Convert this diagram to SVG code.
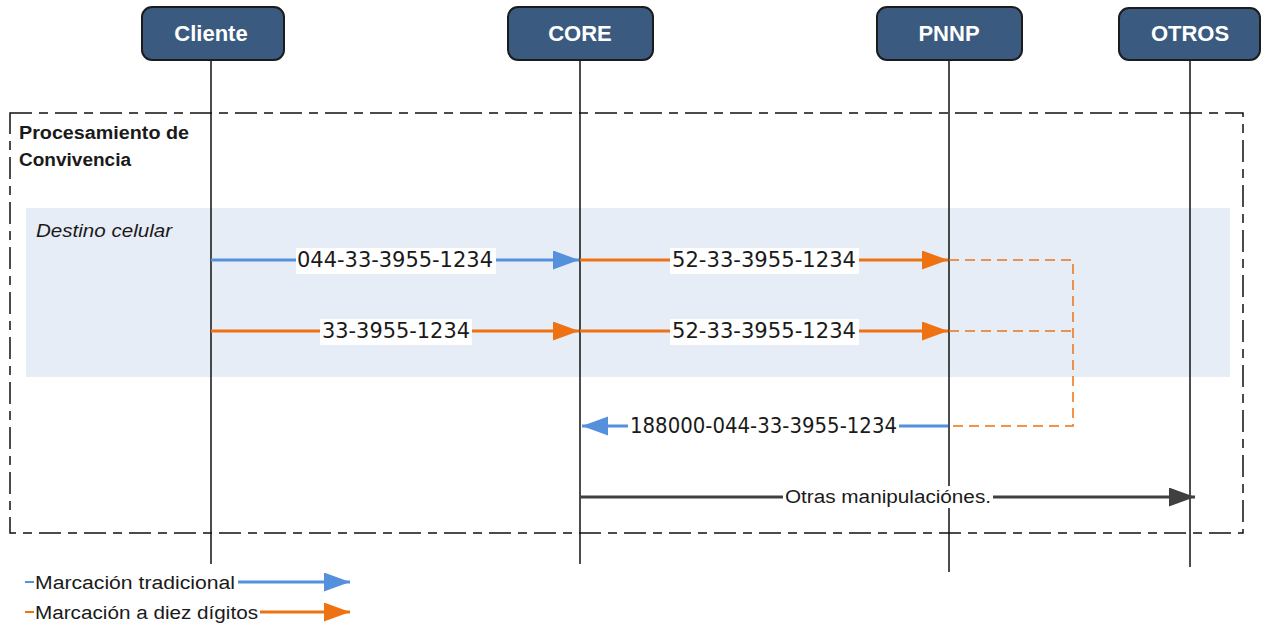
<svg xmlns="http://www.w3.org/2000/svg" width="1263" height="623" viewBox="0 0 1263 623">
<style>
.node rect{fill:#3a5a80;stroke:#1c1c1c;stroke-width:2}
.node text{font-family:"Liberation Sans",Arial,sans-serif;font-weight:bold;font-size:22px;fill:#ffffff;text-anchor:middle}
.life{stroke:#111;stroke-width:1.5}
.blue{stroke:#5590dc;stroke-width:3;fill:none}
.orange{stroke:#ee7212;stroke-width:3;fill:none}
.gray{stroke:#404040;stroke-width:3;fill:none}
.odash{stroke:#ee7212;stroke-width:1.5;fill:none;stroke-dasharray:10 6}
.lbl{font-family:"DejaVu Sans",Verdana,sans-serif;font-size:21px;fill:#1a1a1a}
.lbg{fill:#ffffff}
.small{font-family:"Liberation Sans",Arial,sans-serif;font-size:18px;fill:#1a1a1a}
</style>
<defs>
<marker id="ab" markerUnits="userSpaceOnUse" markerWidth="27" markerHeight="20" refX="26" refY="9.5" orient="auto"><path d="M0,0 L26,9.5 L0,19 z" fill="#5590dc"/></marker>
<marker id="ao" markerUnits="userSpaceOnUse" markerWidth="27" markerHeight="20" refX="26" refY="9.5" orient="auto"><path d="M0,0 L26,9.5 L0,19 z" fill="#ee7212"/></marker>
<marker id="ag" markerUnits="userSpaceOnUse" markerWidth="27" markerHeight="20" refX="26" refY="9.5" orient="auto"><path d="M0,0 L26,9.5 L0,19 z" fill="#404040"/></marker>
</defs>
<rect width="1263" height="623" fill="#ffffff"/>
<g id="frame">
<rect x="26" y="208" width="1204" height="169" fill="#e7edf7"/>
<rect x="10" y="113" width="1233" height="420" fill="none" stroke="#111" stroke-width="1.5" stroke-dasharray="22 7 9 7"/>
<text x="19" y="139" font-family="'Liberation Sans',Arial,sans-serif" font-weight="bold" font-size="18" fill="#1a1a1a" textLength="170" lengthAdjust="spacingAndGlyphs">Procesamiento de</text>
<text x="19" y="166" font-family="'Liberation Sans',Arial,sans-serif" font-weight="bold" font-size="18" fill="#1a1a1a" textLength="112" lengthAdjust="spacingAndGlyphs">Convivencia</text>
<text x="36" y="237" font-family="'Liberation Sans',Arial,sans-serif" font-style="italic" font-size="18" fill="#1a1a1a" textLength="136" lengthAdjust="spacingAndGlyphs">Destino celular</text>
</g>
<g id="lifelines">
<line class="life" x1="211" y1="60" x2="211" y2="564"/>
<line class="life" x1="580" y1="60" x2="580" y2="564"/>
<line class="life" x1="949" y1="60" x2="949" y2="572"/>
<line class="life" x1="1190" y1="60" x2="1190" y2="567"/>
</g>
<g id="node-cliente" class="node"><rect x="142" y="7" width="142" height="53" rx="10"/><text x="211" y="41">Cliente</text></g>
<g id="node-core" class="node"><rect x="508" y="7" width="145" height="53" rx="10"/><text x="580" y="41">CORE</text></g>
<g id="node-pnnp" class="node"><rect x="877" y="7" width="145" height="53" rx="10"/><text x="949" y="41">PNNP</text></g>
<g id="node-otros" class="node"><rect x="1119" y="8" width="141" height="52" rx="10"/><text x="1190" y="41">OTROS</text></g>
<g id="connectors">
<line class="blue" x1="211" y1="260" x2="579" y2="260" marker-end="url(#ab)"/>
<line class="orange" x1="580" y1="260" x2="948" y2="260" marker-end="url(#ao)"/>
<line class="orange" x1="211" y1="331" x2="579" y2="331" marker-end="url(#ao)"/>
<line class="orange" x1="580" y1="331" x2="948" y2="331" marker-end="url(#ao)"/>
<polyline class="odash" points="949,260 1073,260 1073,426 949,426"/>
<line class="odash" x1="949" y1="331" x2="1073" y2="331"/>
<line class="blue" x1="948" y1="426" x2="582" y2="426" marker-end="url(#ab)"/>
<line class="gray" x1="580" y1="497" x2="1195" y2="497" marker-end="url(#ag)"/>
<rect class="lbg" x="296" y="248" width="200" height="26"/>
<text class="lbl" x="297" y="267" textLength="196" lengthAdjust="spacing">044-33-3955-1234</text>
<rect class="lbg" x="670" y="248" width="189" height="26"/>
<text class="lbl" x="672" y="267" textLength="184" lengthAdjust="spacingAndGlyphs">52-33-3955-1234</text>
<rect class="lbg" x="320" y="319" width="152" height="26"/>
<text class="lbl" x="322" y="338" textLength="148" lengthAdjust="spacingAndGlyphs">33-3955-1234</text>
<rect class="lbg" x="670" y="319" width="189" height="26"/>
<text class="lbl" x="672" y="338" textLength="184" lengthAdjust="spacingAndGlyphs">52-33-3955-1234</text>
<rect class="lbg" x="628" y="414" width="271" height="26"/>
<text class="lbl" x="630" y="433" textLength="267" lengthAdjust="spacingAndGlyphs">188000-044-33-3955-1234</text>
<rect class="lbg" x="783" y="486" width="210" height="22"/>
<text class="small" x="785" y="503" textLength="206" lengthAdjust="spacingAndGlyphs">Otras manipulaciónes.</text>
</g>
<g id="legend">
<line x1="25" y1="582" x2="34" y2="582" stroke="#5590dc" stroke-width="2"/>
<text class="small" x="35" y="589" textLength="200" lengthAdjust="spacingAndGlyphs">Marcación tradicional</text>
<line class="blue" x1="238" y1="582" x2="350" y2="582" marker-end="url(#ab)"/>
<line x1="25" y1="612" x2="34" y2="612" stroke="#ee7212" stroke-width="2"/>
<text class="small" x="35" y="619" textLength="223" lengthAdjust="spacingAndGlyphs">Marcación a diez dígitos</text>
<line class="orange" x1="260" y1="612" x2="350" y2="612" marker-end="url(#ao)"/>
</g>
</svg>
